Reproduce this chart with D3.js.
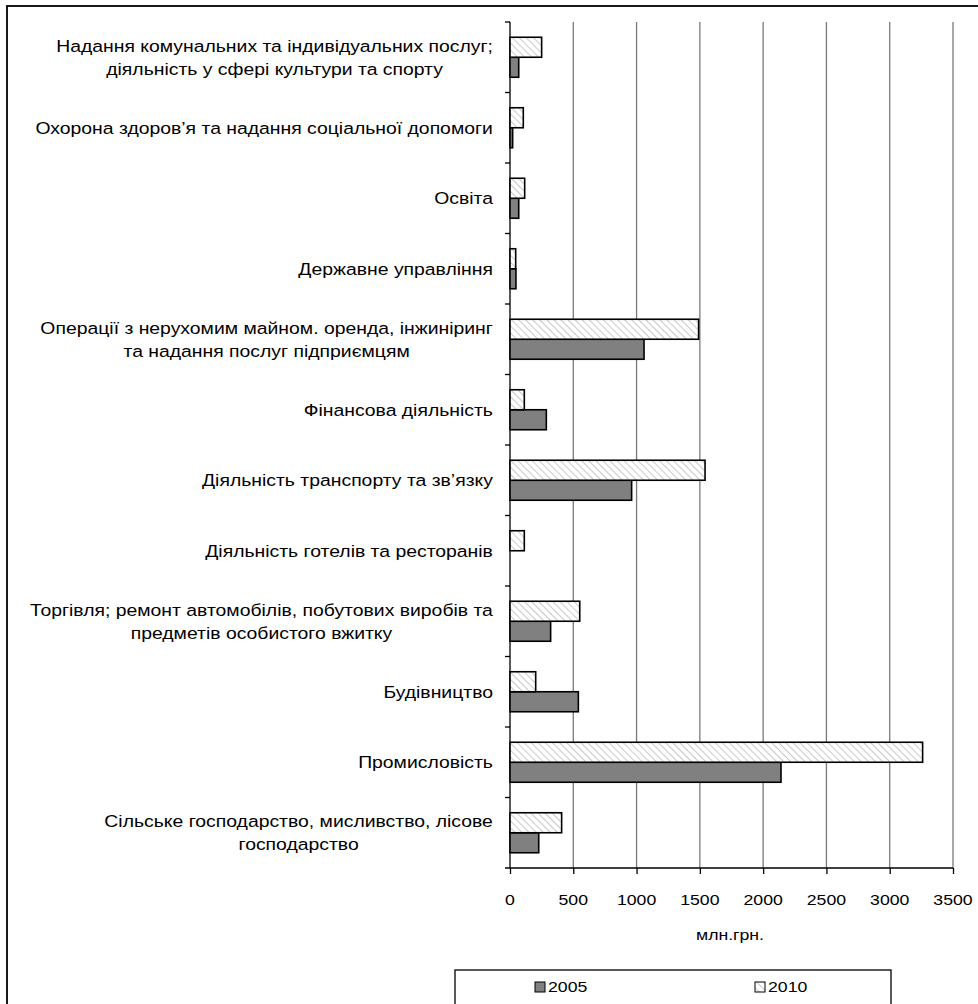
<!DOCTYPE html>
<html lang="uk">
<head>
<meta charset="utf-8">
<title>Структура за видами діяльності, млн.грн.</title>
<script src="https://cdn.jsdelivr.net/npm/d3@7"></script>
<style>
  body { margin: 0; background: #fff; }
  svg text { font-family: "Liberation Sans", Arial, sans-serif; fill: #000; }
</style>
</head>
<body>
<div id="chart"></div>
<script>
// категорії зверху вниз (рядки підпису розділені \n)
var categories = [
  "Надання комунальних та індивідуальних послуг;\nдіяльність у сфері культури та спорту",
  "Охорона здоров’я та надання соціальної допомоги",
  "Освіта",
  "Державне управління",
  "Операції з нерухомим майном. оренда, інжиніринг\nта надання послуг підприємцям",
  "Фінансова діяльність",
  "Діяльність транспорту та зв’язку",
  "Діяльність готелів та ресторанів",
  "Торгівля; ремонт автомобілів, побутових виробів та\nпредметів особистого вжитку",
  "Будівництво",
  "Промисловість",
  "Сільське господарство, мисливство, лісове\nгосподарство"
];
var values2005 = [69, 21, 69, 47, 1059, 287, 961, 0, 321, 540, 2141, 227];
var values2010 = [250, 105, 116, 45, 1490, 113, 1541, 113, 551, 203, 3260, 408];
var xTicks = [0, 500, 1000, 1500, 2000, 2500, 3000, 3500];
var seriesNames = ["2005", "2010"];
var axisTitle = "млн.грн.";

var W = 978, H = 1004;
var stretch = 1.14; // шрифт в оригіналі трохи розтягнутий по горизонталі
var svg = d3.select("#chart").append("svg").attr("width", W).attr("height", H);

var defs = svg.append("defs");
var pat = defs.append("pattern").attr("id", "hatch").attr("patternUnits", "userSpaceOnUse")
  .attr("width", 5).attr("height", 5).attr("patternTransform", "rotate(-45)");
pat.append("rect").attr("width", 5).attr("height", 5).attr("fill", "#fff");
pat.append("line").attr("x1", 0).attr("y1", 0).attr("x2", 0).attr("y2", 5)
  .attr("stroke", "#bdbdbd").attr("stroke-width", 1.6);

// текст з горизонтальним розтягом
function sText(g, px, py, str, size, anchor) {
  return g.append("g").attr("transform", "translate(" + px + "," + py + ") scale(" + stretch + ",1)")
    .append("text").attr("text-anchor", anchor || "middle").attr("dy", "0.35em")
    .style("font-size", size + "px").text(str);
}

// рамка
svg.append("rect").attr("x", 7).attr("y", 6).attr("width", W + 20).attr("height", H + 20)
  .attr("fill", "none").attr("stroke", "#000").attr("stroke-width", 1.8);

var plot = {left: 510, right: 953, top: 22, bottom: 868};
var x = d3.scaleLinear().domain([0, 3500]).range([plot.left, plot.right]);
var y = d3.scaleBand().domain(d3.range(categories.length)).range([plot.top, plot.bottom]);
var inner = d3.scaleBand().domain([1, 0]).range([-20, 20]); // 2010 зверху

// сітка
svg.append("g").selectAll("line").data(xTicks.slice(1)).enter().append("line")
  .attr("x1", function (d) { return x(d); }).attr("x2", function (d) { return x(d); })
  .attr("y1", plot.top).attr("y2", plot.bottom)
  .attr("stroke", "#7a7a7a").attr("stroke-width", 1.3);

// вісь x
var gx = svg.append("g").attr("transform", "translate(0," + plot.bottom + ")")
  .call(d3.axisBottom(x).tickValues(xTicks).tickSize(6).tickFormat(""));
gx.select(".domain").attr("stroke", "#000").attr("stroke-width", 1.3).attr("d", "M" + (plot.left - 5) + ",0H" + plot.right);
gx.selectAll(".tick line").attr("stroke", "#000").attr("stroke-width", 1.3);
var tickLab = svg.append("g");
xTicks.forEach(function (t) { sText(tickLab, x(t), 900, d3.format("d")(t), 15.5); });

// вісь y
svg.append("line").attr("x1", plot.left).attr("x2", plot.left).attr("y1", plot.top).attr("y2", plot.bottom)
  .attr("stroke", "#000").attr("stroke-width", 1.3);
svg.append("g").selectAll("line").data(d3.range(categories.length)).enter().append("line")
  .attr("x1", plot.left - 5).attr("x2", plot.left)
  .attr("y1", function (d) { return y(d); }).attr("y2", function (d) { return y(d); })
  .attr("stroke", "#000").attr("stroke-width", 1.3);

// бари
[values2005, values2010].forEach(function (vals, s) {
  svg.append("g").selectAll("rect")
    .data(vals.map(function (v, i) { return {v: v, i: i}; }).filter(function (d) { return d.v > 0; }))
    .enter().append("rect")
    .attr("x", x(0))
    .attr("y", function (d) { return y(d.i) + y.bandwidth() / 2 + inner(s); })
    .attr("width", function (d) { return x(d.v) - x(0); })
    .attr("height", inner.bandwidth())
    .attr("fill", s === 0 ? "#808080" : "url(#hatch)")
    .attr("stroke", "#000").attr("stroke-width", 1.6);
});

// підписи категорій (блок вирівняний праворуч, рядки по центру)
var labG = svg.append("g");
var right = 493, lh = 23, fs = 17;
categories.forEach(function (c, i) {
  var lines = c.split("\n");
  var cy = y(i) + y.bandwidth() / 2;
  var probe = labG.append("text").style("font-size", fs + "px");
  var maxW = d3.max(lines, function (l) { probe.text(l); return probe.node().getComputedTextLength(); }) * stretch;
  probe.remove();
  lines.forEach(function (l, k) {
    sText(labG, right - maxW / 2, cy + (k - (lines.length - 1) / 2) * lh, l, fs);
  });
});

// підпис осі
sText(svg, 730, 935, axisTitle, 15.5);

// легенда
var lg = svg.append("g");
lg.append("rect").attr("x", 455).attr("y", 970).attr("width", 436).attr("height", 60)
  .attr("fill", "#fff").attr("stroke", "#000").attr("stroke-width", 1.3);
var legX = [535, 755];
seriesNames.forEach(function (n, s) {
  lg.append("rect").attr("x", legX[s]).attr("y", 982).attr("width", 10).attr("height", 10)
    .attr("fill", s === 0 ? "#808080" : "url(#hatch)").attr("stroke", "#000");
  sText(lg, legX[s] + 13, 987, n, 15.5, "start");
});
</script>
</body>
</html>
